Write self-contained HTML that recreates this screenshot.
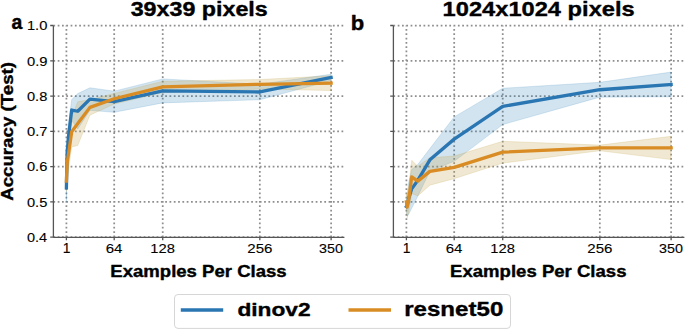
<!DOCTYPE html><html><head><meta charset="utf-8"><style>html,body{margin:0;padding:0;background:#fff;}svg{display:block;}text{font-family:"Liberation Sans",sans-serif;}</style></head><body>
<svg width="685" height="330" viewBox="0 0 685 330">
<rect width="685" height="330" fill="#fff"/>
<path d="M53.4,237.2 H344.4 M53.4,201.92 H344.4 M53.4,166.64 H344.4 M53.4,131.36 H344.4 M53.4,96.08 H344.4 M53.4,60.8 H344.4 M53.4,25.52 H344.4 M66.4,237.2 V25.5 M114.19,237.2 V25.5 M162.73,237.2 V25.5 M259.82,237.2 V25.5 M331.12,237.2 V25.5" stroke="#8e8e8e" stroke-width="1.75" stroke-dasharray="1.75 2.55" fill="none"/>
<path d="M66.4,173.7 L67.16,137.71 L68.68,122.54 L71.71,99.43 L77.78,93.61 L89.91,87.79 L114.19,91.14 L162.73,78.9 L259.82,84.23 L331.12,74.21 L331.12,80.56 L259.82,99.75 L162.73,102.89 L114.19,112.31 L89.91,110.37 L77.78,128.89 L71.71,120.6 L68.68,147.24 L67.16,165.93 L66.4,201.92 Z" fill="#1f77b4" fill-opacity="0.2" stroke="#1f77b4" stroke-opacity="0.2" stroke-width="0.8" stroke-linejoin="round"/>
<path d="M66.4,170.52 L67.16,149 L68.68,138.06 L71.71,116.54 L77.78,101.72 L89.91,99.61 L114.19,93.43 L162.73,81.26 L259.82,79.53 L331.12,75.76 L331.12,90.58 L259.82,89.06 L162.73,92.55 L114.19,104.02 L89.91,115.13 L77.78,145.47 L71.71,146.88 L68.68,167.7 L67.16,177.22 L66.4,191.69 Z" fill="#c3a34b" fill-opacity="0.25" stroke="#c3a34b" stroke-opacity="0.25" stroke-width="0.8" stroke-linejoin="round"/>
<path d="M66.4,187.81 L67.16,151.82 L68.68,134.89 L71.71,110.02 L77.78,111.25 L89.91,99.08 L114.19,101.72 L162.73,90.89 L259.82,91.99 L331.12,77.38" stroke="#2a76b3" stroke-width="3.3" fill="none" stroke-linejoin="round" stroke-linecap="square"/>
<path d="M66.4,181.1 L67.16,163.11 L68.68,152.88 L71.71,131.71 L77.78,123.6 L89.91,107.37 L114.19,98.73 L162.73,86.91 L259.82,84.3 L331.12,83.17" stroke="#d88c23" stroke-width="3.3" fill="none" stroke-linejoin="round" stroke-linecap="square"/>
<path d="M53.4,25.5 V237.4 M53.4,237.4 H344.4 M50.2,237.2 H53.4 M50.2,201.92 H53.4 M50.2,166.64 H53.4 M50.2,131.36 H53.4 M50.2,96.08 H53.4 M50.2,60.8 H53.4 M50.2,25.52 H53.4 M66.4,237.4 V240.3 M114.19,237.4 V240.3 M162.73,237.4 V240.3 M259.82,237.4 V240.3 M331.12,237.4 V240.3" stroke="#555555" stroke-width="1.3" fill="none"/>
<path d="M393.4,237.2 H684.4 M393.4,201.92 H684.4 M393.4,166.64 H684.4 M393.4,131.36 H684.4 M393.4,96.08 H684.4 M393.4,60.8 H684.4 M393.4,25.52 H684.4 M406.4,237.2 V25.5 M454.19,237.2 V25.5 M502.73,237.2 V25.5 M599.82,237.2 V25.5 M671.12,237.2 V25.5" stroke="#8e8e8e" stroke-width="1.75" stroke-dasharray="1.75 2.55" fill="none"/>
<path d="M406.4,199.45 L407.16,194.86 L408.68,182.52 L411.71,169.46 L417.78,164.52 L429.91,148.51 L454.19,116.9 L502.73,88.25 L599.82,82.32 L671.12,72.09 L671.12,96.79 L599.82,97.14 L502.73,124.59 L454.19,161.35 L429.91,171.09 L417.78,196.28 L411.71,208.27 L408.68,214.27 L407.16,216.03 L406.4,213.56 Z" fill="#1f77b4" fill-opacity="0.2" stroke="#1f77b4" stroke-opacity="0.2" stroke-width="0.8" stroke-linejoin="round"/>
<path d="M406.4,193.1 L407.16,196.63 L408.68,187.81 L411.71,160.29 L417.78,166.29 L429.91,157.64 L454.19,156.06 L502.73,141.24 L599.82,145.12 L671.12,136.3 L671.12,159.58 L599.82,150.76 L502.73,163.11 L454.19,178.64 L429.91,185.16 L417.78,195.92 L411.71,193.45 L408.68,212.5 L407.16,217.8 L406.4,210.74 Z" fill="#c3a34b" fill-opacity="0.25" stroke="#c3a34b" stroke-opacity="0.25" stroke-width="0.8" stroke-linejoin="round"/>
<path d="M406.4,206.51 L407.16,205.45 L408.68,198.39 L411.71,188.87 L417.78,180.4 L429.91,159.8 L454.19,139.12 L502.73,106.42 L599.82,89.73 L671.12,84.44" stroke="#2a76b3" stroke-width="3.3" fill="none" stroke-linejoin="round" stroke-linecap="square"/>
<path d="M406.4,201.92 L407.16,207.21 L408.68,200.16 L411.71,176.87 L417.78,181.1 L429.91,171.4 L454.19,167.35 L502.73,152.18 L599.82,147.94 L671.12,147.94" stroke="#d88c23" stroke-width="3.3" fill="none" stroke-linejoin="round" stroke-linecap="square"/>
<path d="M393.4,25.5 V237.4 M393.4,237.4 H684.4 M390.2,237.2 H393.4 M390.2,201.92 H393.4 M390.2,166.64 H393.4 M390.2,131.36 H393.4 M390.2,96.08 H393.4 M390.2,60.8 H393.4 M390.2,25.52 H393.4 M406.4,237.4 V240.3 M454.19,237.4 V240.3 M502.73,237.4 V240.3 M599.82,237.4 V240.3 M671.12,237.4 V240.3" stroke="#555555" stroke-width="1.3" fill="none"/>
<rect x="174.5" y="294.5" width="336" height="33.9" rx="3.5" ry="3.5" fill="#fff" fill-opacity="0.8" stroke="#d6d6d6" stroke-width="1"/>
<path d="M180.8,310 H223.2" stroke="#2a76b3" stroke-width="3.3" stroke-linecap="butt"/>
<path d="M348.5,310 H391" stroke="#d88c23" stroke-width="3.3" stroke-linecap="butt"/>
<text transform="matrix(0.23276,0,0,0.19628,130.634,15.528)" font-size="100" font-weight="bold" fill="#000" stroke="#000" stroke-width="1.871" stroke-linejoin="round">39x39 pixels</text>
<text transform="matrix(0.23678,0,0,0.19628,442.579,15.528)" font-size="100" font-weight="bold" fill="#000" stroke="#000" stroke-width="1.855" stroke-linejoin="round">1024x1024 pixels</text>
<text transform="matrix(0.19434,0,0,0.19818,11.617,29.402)" font-size="100" font-weight="bold" fill="#000" stroke="#000" stroke-width="2.038" stroke-linejoin="round">a</text>
<text transform="matrix(0.22000,0,0,0.19863,350.660,29.600)" font-size="100" font-weight="bold" fill="#000" stroke="#000" stroke-width="1.913" stroke-linejoin="round">b</text>
<text transform="matrix(0,-0.18707,0.16170,0,13.104,200.861)" font-size="100" font-weight="bold" fill="#000" stroke="#000" stroke-width="2.300" stroke-linejoin="round">Accuracy (Test)</text>
<text transform="matrix(0.18562,0,0,0.15851,110.301,276.971)" font-size="100" font-weight="bold" fill="#000" stroke="#000" stroke-width="2.332" stroke-linejoin="round">Examples Per Class</text>
<text transform="matrix(0.18562,0,0,0.15851,450.101,276.971)" font-size="100" font-weight="bold" fill="#000" stroke="#000" stroke-width="2.332" stroke-linejoin="round">Examples Per Class</text>
<text transform="matrix(0.22739,0,0,0.19054,237.390,316.309)" font-size="100" font-weight="bold" fill="#000" stroke="#000" stroke-width="1.922" stroke-linejoin="round">dinov2</text>
<text transform="matrix(0.24100,0,0,0.19437,404.213,316.306)" font-size="100" font-weight="bold" fill="#000" stroke="#000" stroke-width="1.848" stroke-linejoin="round">resnet50</text>
<text transform="matrix(0.14530,0,0,0.13634,26.979,242.004)" font-size="100" font-weight="normal" fill="#000" stroke="#000" stroke-width="0.853" stroke-linejoin="round">0.4</text>
<text transform="matrix(0.14641,0,0,0.13634,26.974,206.724)" font-size="100" font-weight="normal" fill="#000" stroke="#000" stroke-width="0.849" stroke-linejoin="round">0.5</text>
<text transform="matrix(0.14641,0,0,0.13634,26.974,171.444)" font-size="100" font-weight="normal" fill="#000" stroke="#000" stroke-width="0.849" stroke-linejoin="round">0.6</text>
<text transform="matrix(0.14754,0,0,0.13634,26.970,136.164)" font-size="100" font-weight="normal" fill="#000" stroke="#000" stroke-width="0.846" stroke-linejoin="round">0.7</text>
<text transform="matrix(0.14641,0,0,0.13634,26.974,100.884)" font-size="100" font-weight="normal" fill="#000" stroke="#000" stroke-width="0.849" stroke-linejoin="round">0.8</text>
<text transform="matrix(0.14754,0,0,0.13634,26.970,65.604)" font-size="100" font-weight="normal" fill="#000" stroke="#000" stroke-width="0.846" stroke-linejoin="round">0.9</text>
<text transform="matrix(0.14709,0,0,0.13634,26.883,30.324)" font-size="100" font-weight="normal" fill="#000" stroke="#000" stroke-width="0.847" stroke-linejoin="round">1.0</text>
<text transform="matrix(0.13907,0,0,0.14029,62.647,252.840)" font-size="100" font-weight="normal" fill="#000" stroke="#000" stroke-width="0.859" stroke-linejoin="round">1</text>
<text transform="matrix(0.15029,0,0,0.13634,105.709,252.704)" font-size="100" font-weight="normal" fill="#000" stroke="#000" stroke-width="0.838" stroke-linejoin="round">64</text>
<text transform="matrix(0.14727,0,0,0.13634,150.282,252.704)" font-size="100" font-weight="normal" fill="#000" stroke="#000" stroke-width="0.847" stroke-linejoin="round">128</text>
<text transform="matrix(0.15083,0,0,0.13634,247.306,252.704)" font-size="100" font-weight="normal" fill="#000" stroke="#000" stroke-width="0.837" stroke-linejoin="round">256</text>
<text transform="matrix(0.14327,0,0,0.13634,318.987,252.704)" font-size="100" font-weight="normal" fill="#000" stroke="#000" stroke-width="0.859" stroke-linejoin="round">350</text>
<text transform="matrix(0.13907,0,0,0.14029,402.647,252.840)" font-size="100" font-weight="normal" fill="#000" stroke="#000" stroke-width="0.859" stroke-linejoin="round">1</text>
<text transform="matrix(0.15029,0,0,0.13634,445.709,252.704)" font-size="100" font-weight="normal" fill="#000" stroke="#000" stroke-width="0.838" stroke-linejoin="round">64</text>
<text transform="matrix(0.14727,0,0,0.13634,490.282,252.704)" font-size="100" font-weight="normal" fill="#000" stroke="#000" stroke-width="0.847" stroke-linejoin="round">128</text>
<text transform="matrix(0.15083,0,0,0.13634,587.306,252.704)" font-size="100" font-weight="normal" fill="#000" stroke="#000" stroke-width="0.837" stroke-linejoin="round">256</text>
<text transform="matrix(0.14327,0,0,0.13634,658.987,252.704)" font-size="100" font-weight="normal" fill="#000" stroke="#000" stroke-width="0.859" stroke-linejoin="round">350</text>
</svg></body></html>
